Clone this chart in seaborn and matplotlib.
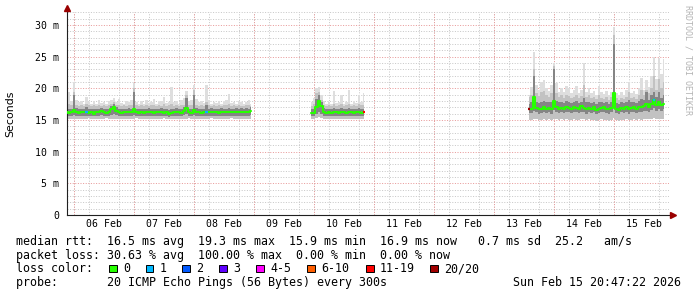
import numpy as np
import pandas as pd
import matplotlib
matplotlib.use("Agg")
import matplotlib.pyplot as plt
import seaborn as sns
from matplotlib.transforms import offset_copy
from matplotlib.patches import Rectangle

# ---------------- data (hours since 06 Feb 00:00, values in ms) ----------------
seg_start_hours = [-3, 95, 182]

# segment 1 : 05 Feb 21:00 .. 08 Feb 23:00
med1 = [16.2,16.1,16.3,16.6,16.2,16.1,16.2,16.3,16.3,16.1,16.2,16.0,16.3,16.2,16.4,
        16.2,16.1,16.3,16.7,17.1,16.4,16.2,16.1,16.2,16.2,16.3,16.2,16.7,16.2,16.1,
        16.2,16.1,16.2,16.3,16.2,16.1,16.2,16.2,16.3,16.1,16.2,15.9,16.1,16.2,16.3,
        16.2,16.1,16.4,16.9,16.2,16.1,16.6,16.3,16.2,16.1,16.2,16.3,16.2,16.3,16.2,
        16.2,16.1,16.3,16.2,16.2,16.3,16.2,16.2,16.3,16.2,16.3,16.2,16.3,16.2,16.4]
high1 = [22.6,19.5,18.0,21.0,18.2,17.8,18.0,17.6,18.6,17.9,17.5,18.0,17.6,18.1,17.7,
         17.9,17.6,18.0,18.2,18.4,17.9,18.3,17.7,17.6,18.0,17.8,18.1,20.9,17.8,17.5,
         18.0,17.6,18.2,17.7,17.9,18.3,17.6,17.8,18.0,18.6,17.7,17.9,20.2,17.8,18.0,
         17.6,18.1,18.4,19.6,18.0,18.2,20.5,18.3,17.8,18.0,17.7,20.5,18.1,17.6,17.9,
         17.7,18.0,17.6,17.8,18.1,19.1,17.7,17.9,17.6,18.0,17.8,17.5,17.9,18.2,17.6]
p90_1 = [19.0,17.6,17.3,19.5,17.4,17.2,17.3,17.2,17.6,17.3,17.2,17.4,17.2,17.3,17.2,
         17.3,17.2,17.4,17.6,17.8,17.3,17.4,17.2,17.3,17.2,17.4,17.3,20.0,17.3,17.2,
         17.3,17.2,17.4,17.2,17.3,17.4,17.2,17.3,17.2,17.5,17.2,17.3,17.6,17.2,17.3,
         17.2,17.3,17.4,18.9,17.3,17.4,19.8,17.4,17.2,17.3,17.2,17.8,17.3,17.2,17.3,
         17.2,17.3,17.2,17.3,17.4,17.5,17.2,17.3,17.2,17.3,17.2,17.2,17.3,17.4,17.2]
q3_1 = [17.6,16.8,16.8,19.0,16.9,16.8,16.8,16.7,17.0,16.8,16.7,16.8,16.7,16.8,16.9,
        16.8,16.7,16.8,17.2,17.6,17.0,16.8,16.7,16.8,16.8,16.9,16.8,19.5,16.8,16.7,
        16.8,16.7,16.8,16.9,16.8,16.7,16.8,16.8,16.9,16.8,16.8,16.6,16.7,16.8,16.9,
        16.8,16.7,17.0,18.5,16.8,16.7,19.0,16.9,16.8,16.7,16.8,17.3,16.8,16.9,16.8,
        16.8,16.7,16.9,16.8,16.8,16.9,16.8,16.8,16.9,16.8,16.9,16.8,16.9,16.8,17.0]
q1_1 = [15.7,15.6,15.7,15.8,15.7,15.6,15.7,15.7,15.7,15.6,15.7,15.6,15.7,15.7,15.8,
        15.7,15.6,15.7,15.8,15.9,15.8,15.7,15.6,15.7,15.7,15.7,15.7,15.8,15.7,15.6,
        15.7,15.6,15.7,15.7,15.7,15.6,15.7,15.7,15.7,15.6,15.7,15.5,15.6,15.7,15.7,
        15.7,15.6,15.8,15.9,15.7,15.6,15.8,15.7,15.7,15.6,15.7,15.7,15.7,15.7,15.7,
        15.7,15.6,15.7,15.7,15.7,15.7,15.7,15.7,15.7,15.7,15.7,15.7,15.7,15.7,15.8]
low1 = [15.2,15.1,15.2,15.1,15.2,15.2,15.1,15.2,15.2,15.3,15.2,15.1,15.2,15.2,15.1,
        15.2,15.3,15.2,15.2,15.1,15.2,15.2,15.1,15.2,15.2,15.1,15.2,15.2,15.3,15.2,
        15.1,15.2,15.2,15.1,15.2,15.2,15.1,15.2,15.2,15.3,15.2,15.1,15.2,15.2,15.1,
        15.2,15.2,15.1,15.2,15.3,15.2,15.2,15.1,15.2,15.2,15.1,15.2,15.2,15.3,15.2,
        15.1,15.2,15.2,15.1,15.2,15.2,15.3,15.2,15.1,15.2,15.2,15.1,15.2,15.2,15.2]

# segment 2 : 09 Feb 23:00 .. 10 Feb 20:00
med2 = [16.15,16.15,17.0,18.0,17.2,16.2,16.1,16.2,16.1,16.3,16.2,
        16.1,16.2,16.2,16.1,16.3,16.2,16.1,16.2,16.2,16.1,16.2]
high2 = [17.9,18.5,20.0,20.2,19.0,18.0,17.6,17.8,17.5,19.6,17.7,
         17.9,18.9,17.6,17.8,19.7,17.6,17.9,17.7,19.0,17.8,19.3]
p90_2 = [17.2,17.6,19.2,19.5,18.2,17.4,17.2,17.3,17.2,17.6,17.2,
         17.3,17.5,17.2,17.3,17.6,17.2,17.3,17.2,17.5,17.3,17.4]
q3_2 = [16.7,16.8,18.3,19.0,17.9,16.9,16.8,16.8,16.7,16.9,16.8,
        16.8,16.9,16.7,16.8,16.9,16.8,16.7,16.8,16.9,16.8,16.8]
q1_2 = [15.7,15.7,15.9,16.2,15.9,15.7,15.6,15.7,15.6,15.7,15.7,
        15.6,15.7,15.7,15.6,15.7,15.7,15.6,15.7,15.7,15.6,15.7]
low2 = [15.2,15.2,15.3,15.4,15.3,15.2,15.1,15.2,15.1,15.2,15.1,
        15.2,15.1,15.2,15.2,15.1,15.2,15.1,15.2,15.1,15.2,15.2]

# segment 3 : 13 Feb 14:00 .. 15 Feb 20:00
med3 = [16.8,16.8,18.6,16.9,16.7,16.8,17.0,16.8,16.9,16.7,18.0,
        17.0,16.8,16.9,16.8,17.0,16.9,16.8,17.1,16.9,16.8,17.2,
        16.9,16.7,16.9,16.8,17.0,16.6,16.8,16.9,17.0,16.8,16.7,
        16.9,19.3,16.8,16.6,16.9,16.8,17.0,16.7,16.9,17.0,16.8,
        17.1,17.0,17.2,17.5,17.1,17.6,18.2,17.4,17.9,17.3,17.6]
high3 = [19.0,20.2,25.8,20.5,19.8,21.0,21.3,20.0,19.6,20.6,24.0,
         20.8,19.5,20.0,19.4,20.3,20.0,19.2,19.7,20.4,19.3,19.8,
         24.0,19.5,20.1,19.2,19.6,19.0,20.3,19.4,19.1,19.6,19.0,
         19.5,29.7,19.2,18.9,19.4,19.0,19.7,21.0,19.3,19.6,19.1,
         20.0,21.6,19.8,21.3,20.2,22.0,25.0,21.5,24.8,22.3,24.6]
p90_3 = [18.6,19.0,23.0,19.2,18.8,19.4,19.6,18.9,18.7,19.2,23.5,
         19.3,18.6,18.9,18.5,19.0,18.8,18.4,18.7,19.0,18.5,18.8,
         20.5,18.6,18.9,18.4,18.6,18.3,19.0,18.5,18.3,18.6,18.2,
         18.6,28.5,18.4,18.2,18.5,18.3,18.7,19.5,18.4,18.6,18.3,
         19.0,19.8,18.9,19.8,19.2,20.0,22.0,19.8,21.5,20.0,21.0]
q3_3 = [17.6,17.8,22.0,17.9,17.7,17.9,18.0,17.8,17.8,17.9,23.0,
        18.0,17.8,17.9,17.7,18.0,17.9,17.7,17.9,18.0,17.7,17.9,
        18.5,17.8,17.9,17.7,17.9,17.6,17.9,17.8,17.7,17.8,17.6,
        17.8,27.0,17.7,17.6,17.8,17.7,17.9,18.2,17.8,17.9,17.7,
        18.0,18.3,18.1,19.5,18.2,19.0,19.5,18.6,19.5,18.4,19.0]
q1_3 = [16.1,16.1,16.5,16.2,16.0,16.1,16.2,16.1,16.2,16.0,16.6,
        16.2,16.1,16.2,16.1,16.2,16.2,16.1,16.3,16.2,16.1,16.3,
        16.2,16.0,16.2,16.1,16.2,16.0,16.1,16.2,16.2,16.1,16.0,
        16.2,17.0,16.1,16.0,16.2,16.1,16.2,16.0,16.2,16.2,16.1,
        16.3,16.2,16.4,16.5,16.3,16.6,16.9,16.5,16.8,16.5,16.7]
low3 = [15.0,15.0,15.2,15.1,15.0,15.0,15.1,15.0,15.1,15.0,15.2,
        15.1,15.0,15.1,15.0,15.1,15.0,15.0,15.1,15.0,15.0,15.1,
        15.1,15.0,15.1,15.0,15.0,14.9,15.0,15.1,15.0,15.0,14.9,
        15.0,15.3,15.0,14.9,15.0,15.0,15.1,15.0,15.0,15.1,15.0,
        15.1,15.0,15.1,15.2,15.1,15.2,15.3,15.1,15.2,15.1,15.2]

# hours with packet loss and number of lost pings
loss_hours = [5, 53, 116, 182, 232]
loss_counts = [1, 1, 12, 20, 1]

day_labels = ["06 Feb", "07 Feb", "08 Feb", "09 Feb", "10 Feb",
              "11 Feb", "12 Feb", "13 Feb", "14 Feb", "15 Feb"]

loss_legend_labels = ["0", "1", "2", "3", "4-5", "6-10", "11-19", "20/20"]
loss_legend_colors = ["#26ff00", "#00b8ff", "#0059ff", "#5e00ff",
                      "#ff00fe", "#ff5e00", "#ff0000", "#a10000"]
loss_upper = [0, 1, 2, 3, 5, 10, 19, 20]

stat_lines = [
    "median rtt:  16.5 ms avg  19.3 ms max  15.9 ms min  16.9 ms now   0.7 ms sd  25.2   am/s",
    "packet loss: 30.63 % avg  100.00 % max  0.00 % min  0.00 % now",
    "loss color:",
    "probe:       20 ICMP Echo Pings (56 Bytes) every 300s",
]
stamp = "Sun Feb 15 20:47:22 2026"

# ---------------- build tidy frame ----------------
segments = [
    (med1, high1, p90_1, q3_1, q1_1, low1),
    (med2, high2, p90_2, q3_2, q1_2, low2),
    (med3, high3, p90_3, q3_3, q1_3, low3),
]
frames = []
for i, (start, arrs) in enumerate(zip(seg_start_hours, segments)):
    n = min(len(a) for a in arrs)
    frames.append(pd.DataFrame({
        "h": np.arange(start, start + n),
        "med": arrs[0][:n], "high": arrs[1][:n], "p90": arrs[2][:n],
        "q3": arrs[3][:n], "q1": arrs[4][:n], "low": arrs[5][:n], "seg": i,
    }))
df = pd.concat(frames, ignore_index=True)

# ---------------- figure ----------------
sns.set_theme(style="white")
plt.rcParams["font.family"] = ["DejaVu Sans"]
MONO = "DejaVu Sans Mono"

W, H = 697, 297
fig = plt.figure(figsize=(W / 100, H / 100), dpi=100)
fig.patch.set_facecolor("white")
AX_L, AX_R, AX_T, AX_B = 67, 669, 12, 215
ax = fig.add_axes([AX_L / W, 1 - AX_B / H, (AX_R - AX_L) / W, (AX_B - AX_T) / H])
ax.set_facecolor("white")
ax.set_xlim(-2.8, 238)
ax.set_ylim(0, (AX_B - AX_T) / (190 / 30))

# grid
ax.set_axisbelow(True)
ax.set_xticks(np.arange(0, 238, 6), minor=True)
ax.set_yticks(np.arange(0, 33, 1), minor=True)
ax.set_yticks(np.arange(0, 31, 5))
ax.set_yticklabels(["0"] + [f"{v} m" for v in range(5, 31, 5)])
noon = [12 + 24 * i for i in range(len(day_labels))]
ax.set_xticks(noon)
ax.set_xticklabels(day_labels)
dots = (0, (1, 1.6))
ax.grid(which="minor", axis="both", color="#c8c8c8", linestyle=dots, linewidth=0.72)
ax.grid(which="major", axis="x", visible=False)
ax.grid(which="major", axis="y", color="#e89a9a", linestyle=dots, linewidth=0.72)
for i in range(len(day_labels)):
    ax.axvline(24 * i, color="#e89a9a", linestyle=dots, linewidth=0.72, zorder=0.6)

# smoke
for s, g in df.groupby("seg"):
    ax.fill_between(g["h"], g["low"], g["high"], step="mid", color="#dedede", lw=0, zorder=1)
    ax.fill_between(g["h"], g["low"], g["p90"], step="mid", color="#c2c2c2", lw=0, zorder=1.1)
    ax.fill_between(g["h"], g["q1"], g["q3"], step="mid", color="#858585", lw=0, zorder=1.2)

# median line
sns.lineplot(data=df, x="h", y="med", units="seg", estimator=None, color="#26ff00",
             linewidth=1.5, drawstyle="steps-mid", ax=ax, legend=False, zorder=3)

def loss_color(c):
    for up, col in zip(loss_upper, loss_legend_colors):
        if c <= up:
            return col
    return loss_legend_colors[-1]

for h, c in zip(loss_hours, loss_counts):
    row = df[df["h"] == h]
    if len(row):
        ax.hlines(row["med"].iloc[0], h - 0.5, h + 0.5, color=loss_color(c), lw=1.6, zorder=4)

ax.set_xlabel("")
ax.set_ylabel("")

# axes styling
for sp in ["top", "right"]:
    ax.spines[sp].set_visible(False)
for sp in ["left", "bottom"]:
    ax.spines[sp].set_color("#202020")
    ax.spines[sp].set_linewidth(0.8)
ax.tick_params(axis="x", which="major", length=0, pad=3.2, labelsize=7.1, colors="#000000")
ax.tick_params(axis="y", which="major", length=1.5, pad=4.0, labelsize=7.1, colors="#000000")
ax.tick_params(axis="both", which="minor", length=1.5, color="#b0b0b0")
ax.tick_params(axis="y", which="major", color="#e89a9a")
for lab in ax.get_xticklabels() + ax.get_yticklabels():
    lab.set_family(MONO)

# arrows
ax.plot([0], [1], marker="^", color="#9a0000", markersize=4.2, clip_on=False,
        transform=offset_copy(ax.transAxes, fig=fig, x=0, y=4, units="dots"), zorder=5)
ax.plot([1], [0], marker=">", color="#9a0000", markersize=4.2, clip_on=False,
        transform=offset_copy(ax.transAxes, fig=fig, x=4, y=0, units="dots"), zorder=5)

# labels
fig.text(10.5 / W, 1 - 114 / H, "Seconds", rotation=90, ha="center", va="center",
         fontsize=7.9, color="#000000")
fig.text(688 / W, 1 - 60 / H, "RRDTOOL / TOBI OETIKER", rotation=270, ha="center",
         va="center", fontsize=6.0, color="#b4b4b4", family=MONO)

line_y = [241, 255, 268.5, 282.5]
for txt, yy in zip(stat_lines, line_y):
    fig.text(16 / W, 1 - yy / H, txt, ha="left", va="center", fontsize=8.4,
             family=MONO, color="#000000")
fig.text(681 / W, 1 - line_y[3] / H, stamp, ha="right", va="center", fontsize=8.4,
         family=MONO, color="#000000")

box_x = [109, 145.7, 182.3, 219, 256, 307, 366, 430]
for bx, lab, col in zip(box_x, loss_legend_labels, loss_legend_colors):
    fig.patches.append(Rectangle((bx / W, 1 - (line_y[2] + 3.8) / H), 7.5 / W, 7.5 / H,
                                 transform=fig.transFigure, facecolor=col,
                                 edgecolor="#000000", linewidth=0.7))
    fig.text((bx + 14) / W, 1 - line_y[2] / H, lab, ha="left", va="center",
             fontsize=8.4, family=MONO, color="#000000")

fig.savefig("out.png", dpi=100, facecolor="white")
